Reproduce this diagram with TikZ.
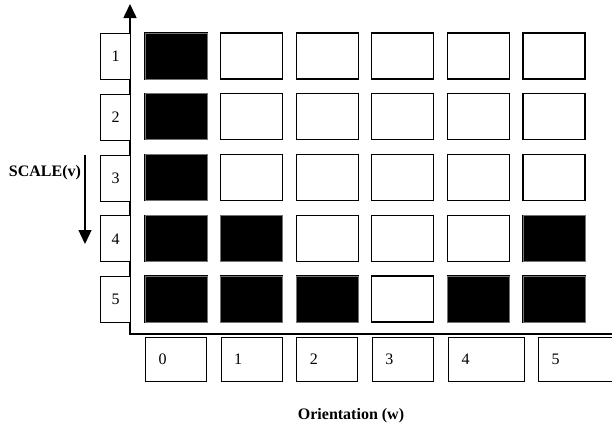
\documentclass[tikz,border=0pt]{standalone}
\usepackage{fontspec}
\setmainfont{Liberation Serif}
\usepackage{tikz}
\usetikzlibrary{arrows.meta}

\begin{document}
\begin{tikzpicture}[x=1pt,y=-1pt,
		cell/.style={draw,line width=1.2pt},
		fullcell/.style={fill=black,draw=black!55,line width=0.6pt},
		vbox/.style={draw,line width=1.2pt,fill=white,minimum width=30pt,minimum height=46pt,anchor=north west,inner sep=0pt,font=\fontsize{16}{19}\selectfont},
		wbox/.style={draw,line width=1.2pt,minimum height=44pt,anchor=north west,inner xsep=13pt,inner ysep=0pt,align=left,font=\fontsize{16}{19}\selectfont},
		axlabel/.style={font=\bfseries\fontsize{16}{19}\selectfont},
		bigtip/.style={-{Triangle[width=13pt,length=14pt]}}]
			\useasboundingbox (0,0) rectangle (612,426);
			\coordinate (o) at (130,334);
			\coordinate (vtop) at (130,4);
			\coordinate (wend) at (612,334);
			\draw[line width=1.6pt,bigtip] (wend) -- (o) -- (vtop);
			\foreach \r in {1,...,5}{
				\node[vbox] (v\r) at (100,{33+(\r-1)*60.75}) {\r};
				\foreach \c in {0,...,5}
					\draw[cell] ({145+\c*75.6},{33+(\r-1)*60.75}) rectangle ++(62,46);
			}
			\foreach \c/\r in {0/1,0/2,0/3,0/4,1/4,5/4,0/5,1/5,2/5,4/5,5/5}{
				\draw[fullcell] ({145+\c*75.6},{33+(\r-1)*60.75}) rectangle ++(62,46);
			}
			\foreach \c/\xx/\tw in {0/145/35,1/220.6/35,2/296.2/35,3/371.8/35,4/448/50,5/538/50}{
				\node[wbox,text width=\tw pt] (w\c) at (\xx,337) {\c};
			}
			\coordinate (s0) at (85,155);
			\coordinate (s1) at (85,244);
			\draw[line width=1.2pt,bigtip] (s0) -- (s1);
			\node[axlabel] (scale) at (45,173) {SCALE(v)};
			\node[axlabel] (orient) at (351,416) {Orientation (w)};
		\end{tikzpicture}
\end{document}
